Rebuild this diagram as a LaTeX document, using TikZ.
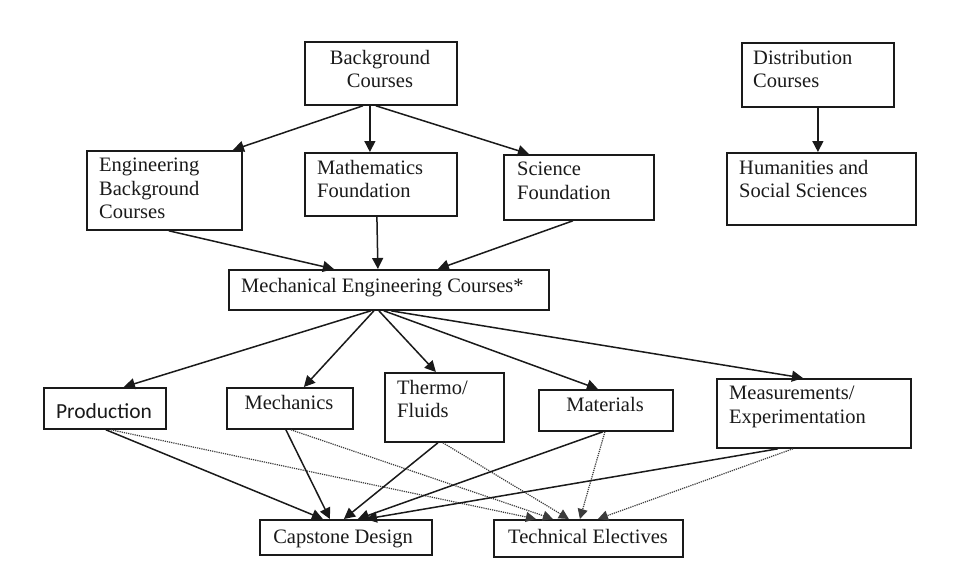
\documentclass[tikz,border=0pt]{standalone}
\usepackage{fontspec}
\setmainfont{Liberation Serif}
\newfontfamily\carlitofont{Carlito}
\usetikzlibrary{arrows.meta,calc}
\definecolor{ink}{HTML}{1A1A1A}
\begin{document}
\begin{tikzpicture}[x=1pt,y=-1pt,
  box/.style={draw=ink,line width=1.8pt,rectangle,inner sep=0pt,anchor=north west},
  txt/.style={inner sep=0pt,text=ink,font=\fontsize{20.5}{23.5}\selectfont,align=left},
  arr/.style={draw=ink,line width=1.5pt,-{Triangle[length=11pt,width=11pt]}},
  dots/.style={draw=ink!85,line width=1.2pt,densely dotted,-{Triangle[length=10pt,width=10pt]}}]
\useasboundingbox[fill=white] (0,0) rectangle (953,581);

% boxes
\node[box,minimum width=152pt,minimum height=63pt] (bg) at (304,41) {};
\node[box,minimum width=155pt,minimum height=79pt] (eng) at (86,150) {};
\node[box,minimum width=152pt,minimum height=63pt] (math) at (304,152) {};
\node[box,minimum width=150pt,minimum height=65pt] (sci) at (503,154) {};
\node[box,minimum width=152pt,minimum height=64pt] (dist) at (741,42) {};
\node[box,minimum width=189pt,minimum height=72pt] (hum) at (726,152) {};
\node[box,minimum width=320pt,minimum height=40pt] (me) at (228,269) {};
\node[box,minimum width=122pt,minimum height=41pt] (prod) at (43,387) {};
\node[box,minimum width=126pt,minimum height=41pt] (mech) at (226,387) {};
\node[box,minimum width=119pt,minimum height=69pt] (thermo) at (384,372) {};
\node[box,minimum width=134pt,minimum height=41pt] (mat) at (538,389) {};
\node[box,minimum width=194pt,minimum height=69pt] (meas) at (716,378) {};
\node[box,minimum width=172pt,minimum height=35pt] (cap) at (259,519) {};
\node[box,minimum width=189pt,minimum height=37pt] (te) at (493,519) {};

% texts
\node[txt,align=center,anchor=north] (bgt) at (380,50) {Background\\Courses};
\node[txt,anchor=north west] (engt) at (99,158) {Engineering\\Background\\Courses};
\node[txt,anchor=north west] (matht) at (317,160) {Mathematics\\Foundation};
\node[txt,anchor=north west] (scit) at (517,162) {Science\\Foundation};
\node[txt,anchor=north west] (distt) at (753,50) {Distribution\\Courses};
\node[txt,anchor=north west] (humt) at (739,160) {Humanities and\\Social Sciences};
\node[txt,anchor=base west] (met) at (241,292) {Mechanical Engineering Courses*};
\node[txt,anchor=base,font=\carlitofont\fontsize{21.5}{24}\selectfont] (prodt) at (104,418) {Production};
\node[txt,anchor=base] (mecht) at (289,409) {Mechanics};
\node[txt,anchor=north west] (thermot) at (397,380) {Thermo/\\Fluids};
\node[txt,anchor=base] (matt) at (605,411) {Materials};
\node[txt,anchor=north west] (meast) at (729,386) {Measurements/\\Experimentation};
\node[txt,anchor=base] (capt) at (343,543) {Capstone Design};
\node[txt,anchor=base] (tet) at (588,543) {Technical Electives};

% top level
\draw[arr] ([xshift=-18pt]bg.south) -- ([xshift=68.5pt]eng.north);
\draw[arr] ([xshift=-11pt]bg.south) -- ([xshift=-11pt]math.north);
\draw[arr] ([xshift=-5pt]bg.south) -- ([xshift=-50pt]sci.north);
\draw[arr] (dist.south) -- ([xshift=-3.5pt]hum.north);

% into ME
\draw[arr] ([xshift=4.5pt]eng.south) -- ([xshift=-55pt]me.north);
\draw[arr] ([xshift=-4pt]math.south) -- ([xshift=-11pt]me.north);
\draw[arr] ([xshift=-6pt]sci.south) -- ([xshift=49pt]me.north);

% ME to areas
\draw[arr] ([xshift=-18pt]me.south) -- ([xshift=19pt]prod.north);
\draw[arr] ([xshift=-15pt]me.south) -- ([xshift=14pt]mech.north);
\draw[arr] ([xshift=-10pt]me.south) -- ([xshift=-8.5pt]thermo.north);
\draw[arr] ([xshift=-5pt]me.south) -- ([xshift=-8pt]mat.north);
\draw[arr] ([xshift=2pt]me.south) -- ([xshift=-11pt]meas.north);

% dotted to technical electives
\draw[dots] ([xshift=6pt]prod.south) -- ([xshift=-52.5pt]te.north);
\draw[dots] ([xshift=1pt]mech.south) -- ([xshift=-35.5pt]te.north);
\draw[dots] ([xshift=-1.5pt]thermo.south) -- ([xshift=-19.5pt]te.north);
\draw[dots] ([xshift=-1pt]mat.south) -- ([xshift=-8.5pt]te.north);
\draw[dots] ([xshift=-21pt]meas.south) -- ([xshift=9.5pt]te.north);

% solid to capstone
\draw[arr] ([xshift=1pt]prod.south) -- ([xshift=-23pt]cap.north);
\draw[arr] ([xshift=-4pt]mech.south) -- ([xshift=-16pt]cap.north);
\draw[arr] ([xshift=-6.5pt]thermo.south) -- ([xshift=-2pt]cap.north);
\draw[arr] ([xshift=-3pt]mat.south) -- ([xshift=12pt]cap.north);
\draw[arr] ([xshift=-36pt]meas.south) -- ([xshift=20pt]cap.north);
\end{tikzpicture}
\end{document}
